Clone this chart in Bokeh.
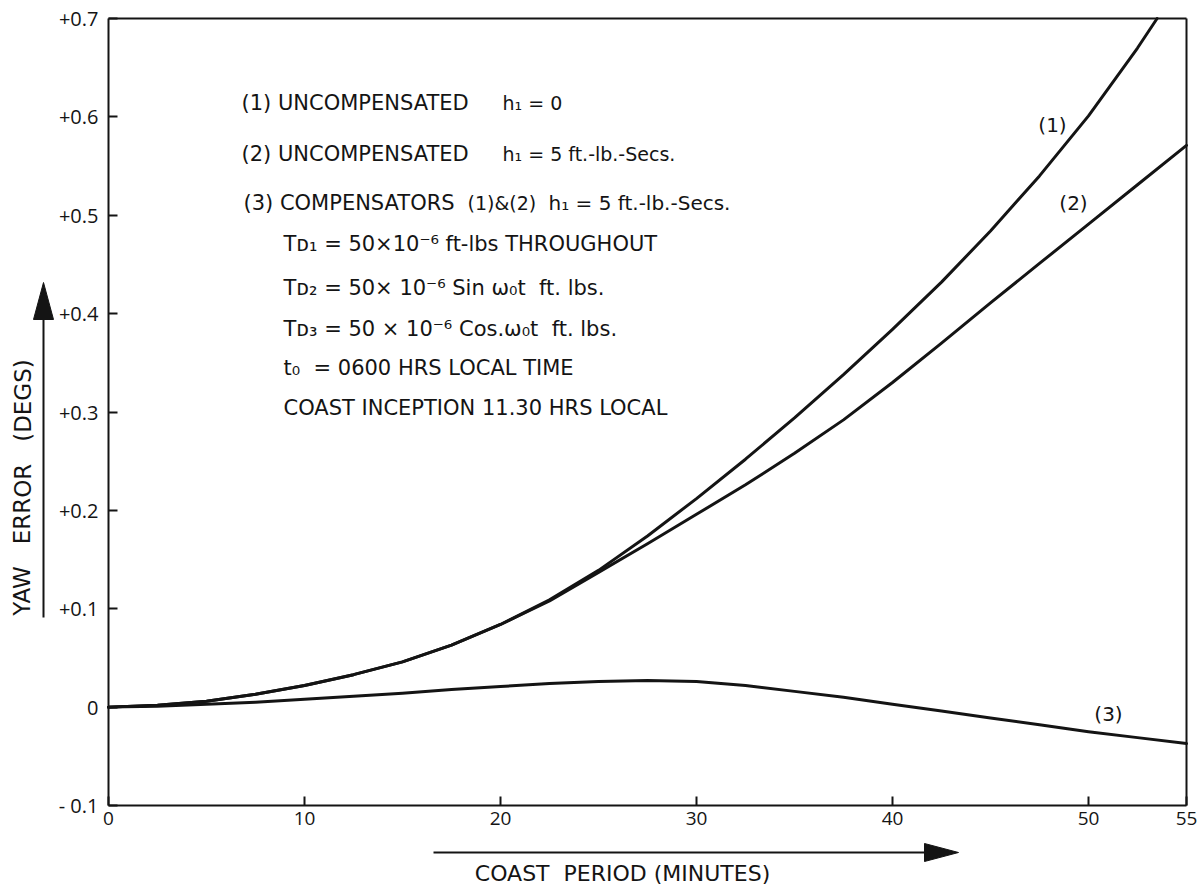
from bokeh.plotting import figure
from bokeh.models import Range1d, FixedTicker, Label, PolyAnnotation, LinearAxis
from bokeh.embed import file_html
from bokeh.resources import INLINE

# ---- data ----
t_1 = [0, 2.5, 5, 7.5, 10, 12.5, 15, 17.5, 20, 22.5, 25, 27.5, 30, 32.5, 35, 37.5,
       40, 42.5, 45, 47.5, 50, 52.5, 53.5]
yaw_1 = [0, 0.002, 0.006, 0.013, 0.022, 0.033, 0.046, 0.063, 0.084, 0.109, 0.139, 0.174,
         0.212, 0.252, 0.294, 0.338, 0.384, 0.432, 0.484, 0.540, 0.601, 0.670, 0.700]

t_2 = [0, 2.5, 5, 7.5, 10, 12.5, 15, 17.5, 20, 22.5, 25, 27.5, 30, 32.5, 35, 37.5,
       40, 42.5, 45, 47.5, 50, 52.5, 55]
yaw_2 = [0, 0.002, 0.006, 0.013, 0.022, 0.033, 0.046, 0.063, 0.084, 0.108, 0.137, 0.166,
         0.196, 0.226, 0.258, 0.292, 0.330, 0.370, 0.411, 0.451, 0.491, 0.531, 0.571]

t_3 = [0, 2.5, 5, 7.5, 10, 12.5, 15, 17.5, 20, 22.5, 25, 27.5, 30, 32.5, 35, 37.5,
       40, 42.5, 45, 47.5, 50, 52.5, 55]
yaw_3 = [0, 0.001, 0.003, 0.005, 0.008, 0.011, 0.014, 0.018, 0.021, 0.024, 0.026, 0.027,
         0.026, 0.022, 0.016, 0.010, 0.003, -0.004, -0.011, -0.018, -0.025, -0.031, -0.037]

x_ticks = [0, 10, 20, 30, 40, 50, 55]
y_ticks = [-0.1, 0, 0.1, 0.2, 0.3, 0.4, 0.5, 0.6, 0.7]
y_tick_labels = ["- 0.1", "0", "+0.1", "+0.2", "+0.3", "+0.4", "+0.5", "+0.6", "+0.7"]

FONT = "Open Sans"
NOTE_FONT = "DejaVu Sans"
INK = "#141414"
NB = "\u00a0"

# chart box in data units and where it sits on the canvas (pixels)
X0, X1, Y0, Y1 = 0, 55, -0.1, 0.7
W, H = 1198, 886
BOX_L, BOX_R, BOX_T, BOX_B = 108, 1186, 18, 805
kx = (X1 - X0) / (BOX_R - BOX_L)
ky = (Y1 - Y0) / (BOX_B - BOX_T)

# the plotting frame covers the whole canvas so that titles and arrows are not clipped
p = figure(width=W, height=H, output_backend="svg", toolbar_location=None,
           x_range=Range1d(X0 - BOX_L * kx, X1 + (W - BOX_R) * kx),
           y_range=Range1d(Y0 - (H - BOX_B) * ky, Y1 + BOX_T * ky),
           x_axis_location=None, y_axis_location=None,
           min_border_left=0, min_border_right=0, min_border_top=0, min_border_bottom=0)
p.background_fill_color = "white"
p.border_fill_color = "white"
p.outline_line_color = None
p.xgrid.visible = False
p.ygrid.visible = False


def style(ax, ticks=True):
    ax.axis_line_color = INK
    ax.axis_line_width = 2
    ax.minor_tick_in = 0
    ax.minor_tick_out = 0
    if ticks:
        ax.major_tick_in = 9
        ax.major_tick_out = 0
        ax.major_tick_line_color = INK
        ax.major_tick_line_width = 2
        ax.major_label_text_font = FONT
        ax.major_label_text_color = INK
    else:
        ax.major_tick_line_color = None
        ax.major_label_text_font_size = "0px"
        ax.major_label_text_color = None


xax = LinearAxis(fixed_location=Y0, bounds=(X0, X1), ticker=FixedTicker(ticks=x_ticks))
style(xax)
xax.major_label_text_font_size = "19px"
xax.major_label_standoff = 6
p.add_layout(xax, "below")

yax = LinearAxis(fixed_location=X0, bounds=(Y0, Y1), ticker=FixedTicker(ticks=y_ticks))
style(yax)
yax.major_label_overrides = {v: s for v, s in zip(y_ticks, y_tick_labels)}
yax.major_label_text_font_size = "20px"
yax.major_label_standoff = 10
p.add_layout(yax, "left")

top_ax = LinearAxis(fixed_location=Y1, bounds=(X0, X1), ticker=FixedTicker(ticks=[]))
style(top_ax, ticks=False)
p.add_layout(top_ax, "above")

right_ax = LinearAxis(fixed_location=X1, bounds=(Y0, Y1), ticker=FixedTicker(ticks=[]))
style(right_ax, ticks=False)
p.add_layout(right_ax, "right")

for xs, ys in ((t_1, yaw_1), (t_2, yaw_2), (t_3, yaw_3)):
    p.line(xs, ys, line_color=INK, line_width=3, line_join="round", line_cap="round")


def label(sx, sy, text, size="21px", align="left", angle=0.0):
    # positions in canvas pixels (from the picture's top-left corner)
    p.add_layout(Label(x=sx, y=sy, x_units="canvas", y_units="canvas", text=text,
                       text_font=NOTE_FONT, text_font_size=size, text_color=INK,
                       text_align=align, text_baseline="middle", angle=angle))


# notes block
label(241, 102, "(1) UNCOMPENSATED")
label(502, 102, "h\u2081 = 0", size="19px")
label(241, 153, "(2) UNCOMPENSATED")
label(502, 153, "h\u2081 = 5 ft.-lb.-Secs.", size="19px")
label(243, 202, "(3) COMPENSATORS")
label(467, 202, "(1)&(2)", size="19px")
label(548, 202, "h\u2081 = 5 ft.-lb.-Secs.", size="20px")
label(283, 243, "T\u1d05\u2081 = 50\u00d710\u207b\u2076 ft-lbs THROUGHOUT")
label(283, 287, "T\u1d05\u2082 = 50\u00d7 10\u207b\u2076 Sin \u03c9\u2080t" + NB * 2 + "ft. lbs.")
label(283, 328, "T\u1d05\u2083 = 50 \u00d7 10\u207b\u2076 Cos.\u03c9\u2080t" + NB * 2 + "ft. lbs.")
label(283, 367, "t\u2080" + NB * 2 + "= 0600 HRS LOCAL TIME")
label(283, 407, "COAST INCEPTION 11.30 HRS LOCAL")

# curve tags
label(1052, 124, "(1)", size="20px", align="center")
label(1073, 202, "(2)", size="20px", align="center")
label(1108, 713, "(3)", size="20px", align="center")

# axis titles
label(622, 873, "COAST" + NB * 2 + "PERIOD (MINUTES)", size="22px", align="center")
label(22, 487, "YAW" + NB * 3 + "ERROR" + NB * 3 + "(DEGS)", size="23px", align="center",
      angle=1.5707963)

# axis arrows (shaft + filled head), canvas pixels
ARROW = dict(xs_units="canvas", ys_units="canvas", line_color=INK, line_alpha=1.0)
p.add_layout(PolyAnnotation(xs=[43, 43], ys=[617, 300], line_width=2, fill_alpha=0, **ARROW))
p.add_layout(PolyAnnotation(xs=[33, 43, 53], ys=[319, 282, 319], line_width=1,
                            fill_color=INK, fill_alpha=1.0, **ARROW))
p.add_layout(PolyAnnotation(xs=[433, 930], ys=[852, 852], line_width=2, fill_alpha=0, **ARROW))
p.add_layout(PolyAnnotation(xs=[924, 958, 924], ys=[843, 852, 861], line_width=1,
                            fill_color=INK, fill_alpha=1.0, **ARROW))

open("out.html", "w").write(file_html(p, INLINE))
